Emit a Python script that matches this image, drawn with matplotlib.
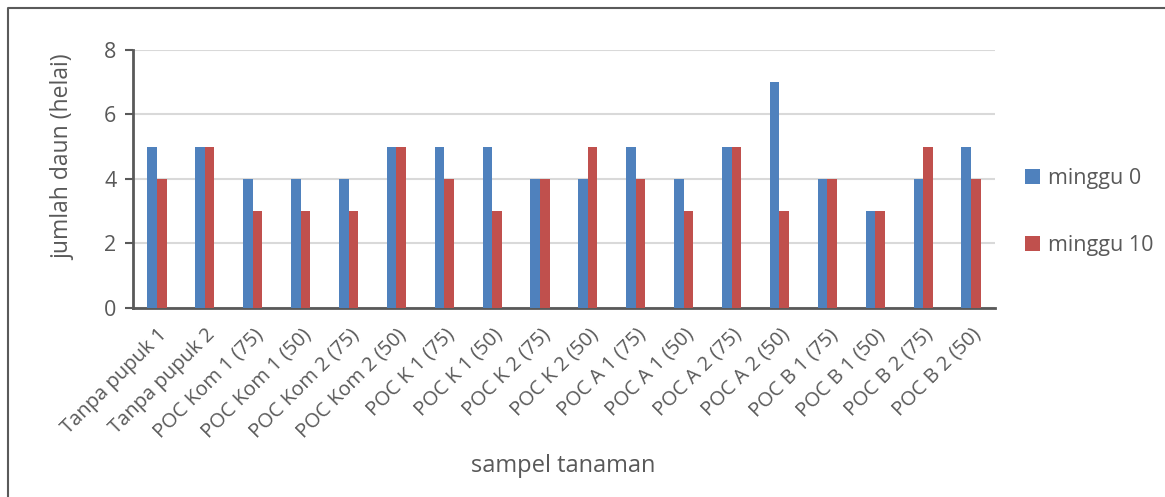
import matplotlib
matplotlib.use("Agg")
import matplotlib.pyplot as plt
import numpy as np
from matplotlib.lines import Line2D

categories = [
    "Tanpa pupuk 1", "Tanpa pupuk 2",
    "POC Kom 1 (75)", "POC Kom 1 (50)", "POC Kom 2 (75)", "POC Kom 2 (50)",
    "POC K 1 (75)", "POC K 1 (50)", "POC K 2 (75)", "POC K 2 (50)",
    "POC A 1 (75)", "POC A 1 (50)", "POC A 2 (75)", "POC A 2 (50)",
    "POC B 1 (75)", "POC B 1 (50)", "POC B 2 (75)", "POC B 2 (50)",
]
minggu_0 = [5, 5, 4, 4, 4, 5, 5, 5, 4, 4, 5, 4, 5, 7, 4, 3, 4, 5]
minggu_10 = [4, 5, 3, 3, 3, 5, 4, 3, 4, 5, 4, 3, 5, 3, 4, 3, 5, 4]
y_ticks = [0, 2, 4, 6, 8]

BLUE = "#4F81BD"
RED = "#C0504D"
TEXT = "#595959"

plt.rcParams["font.family"] = ["Open Sans", "DejaVu Sans"]

fig = plt.figure(figsize=(11.65, 4.97), dpi=100)
ax = fig.add_axes([0.1142, 0.3803, 0.7398, 0.5191])

x = np.arange(len(categories))
width = 0.2
ax.bar(x - width / 2, minggu_0, width, color=BLUE, label="minggu 0", zorder=3)
ax.bar(x + width / 2, minggu_10, width, color=RED, label="minggu 10", zorder=3)

ax.set_xlim(-0.5, len(categories) - 0.5)
ax.set_ylim(0, 8)
ax.set_yticks(y_ticks)
ax.set_yticklabels([str(v) for v in y_ticks], fontsize=15.5, color=TEXT)
ax.set_xticks(x)
ax.set_xticklabels(categories, rotation=45, ha="right", rotation_mode="anchor",
                   fontsize=14.5, color=TEXT)
ax.tick_params(axis="x", length=0, pad=12)
ax.tick_params(axis="y", length=6, width=1.5, color=TEXT, pad=6)

ax.yaxis.grid(True, color="#D9D9D9", linewidth=1.5, zorder=0)
for side in ("top", "right"):
    ax.spines[side].set_visible(False)
for side in ("left", "bottom"):
    ax.spines[side].set_color(TEXT)
    ax.spines[side].set_linewidth(2)

ax.set_ylabel("jumlah daun (helai)", fontsize=16.5, color=TEXT)
ax.yaxis.set_label_coords(-0.067, 0.585)
fig.text(0.483, 0.062, "sampel tanaman", fontsize=17, color=TEXT,
         ha="center", va="center")

ax.legend(loc="center left", bbox_to_anchor=(1.012, 0.372), frameon=False,
          fontsize=15.5, labelcolor=TEXT, handlelength=0.7, handleheight=0.7,
          handletextpad=0.4, labelspacing=2.1)

# chart frame: left and top edges, the rest runs off the canvas
fig.add_artist(Line2D([8 / 1165, 8 / 1165, 1.05],
                      [-0.05, 1 - 8 / 497, 1 - 8 / 497],
                      transform=fig.transFigure, color="#5A5A5A", linewidth=1.5))

fig.savefig("out.png", dpi=100)
